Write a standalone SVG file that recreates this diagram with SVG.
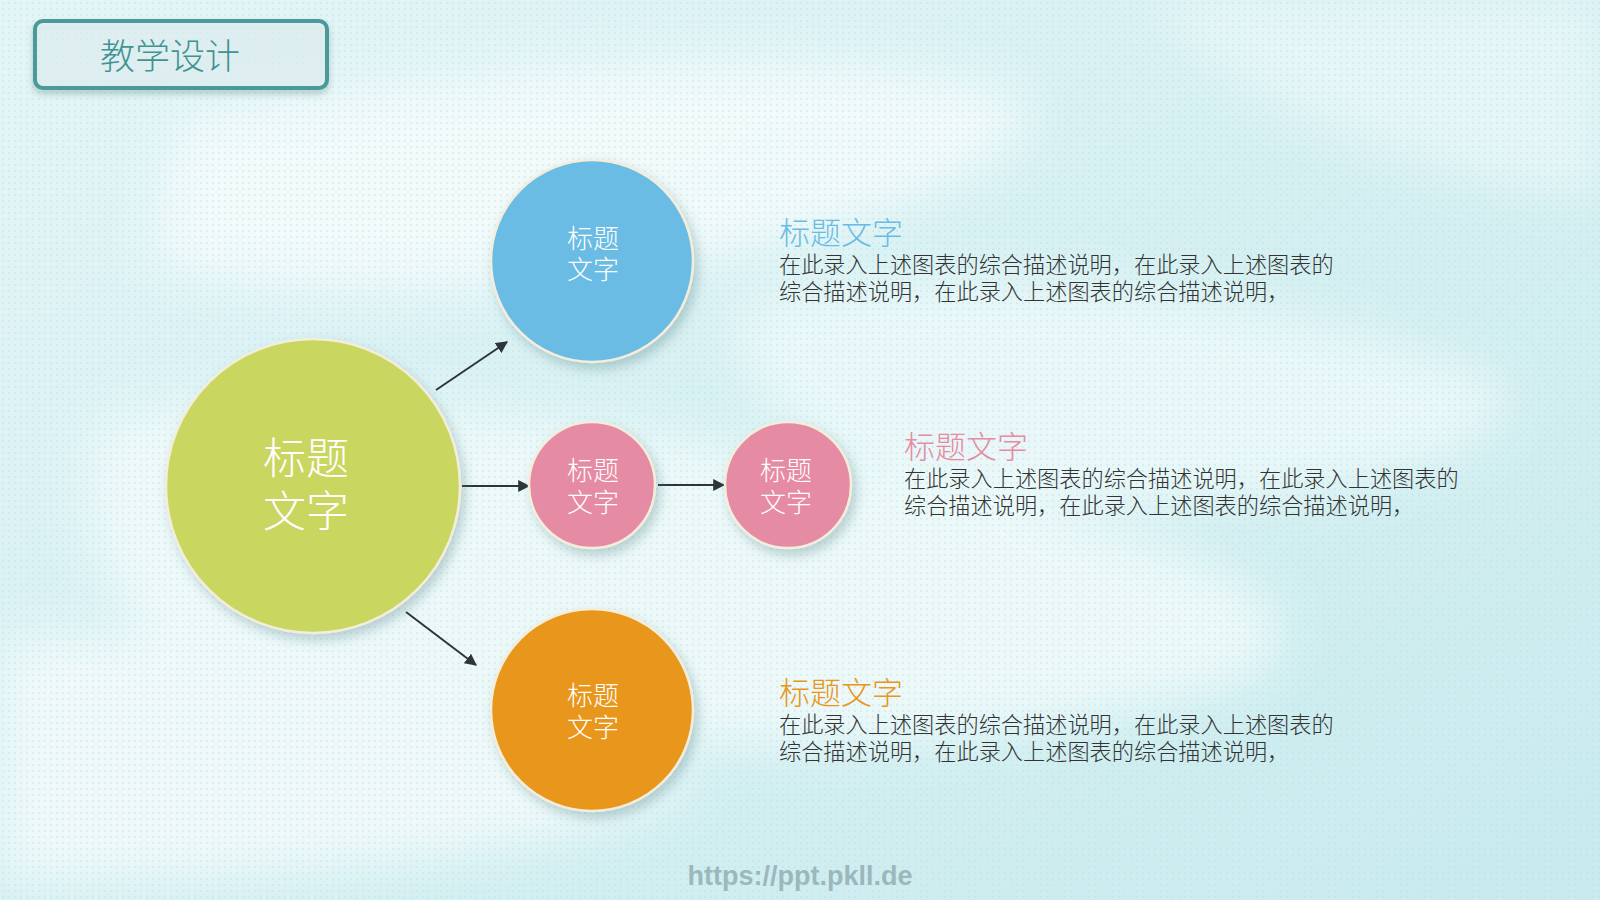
<svg xmlns="http://www.w3.org/2000/svg" width="1600" height="900" viewBox="0 0 1600 900">
  <defs>
    <linearGradient id="bg" x1="0" y1="0" x2="1" y2="1">
      <stop offset="0" stop-color="#e4f5f7"/>
      <stop offset="0.5" stop-color="#d6f0f2"/>
      <stop offset="1" stop-color="#c9ebee"/>
    </linearGradient>
    <pattern id="dots" width="6" height="6" patternUnits="userSpaceOnUse">
      <circle cx="3" cy="3" r="0.9" fill="#b8dde2" opacity="0.55"/>
    </pattern>
    <filter id="blur" x="-20%" y="-20%" width="140%" height="140%">
      <feGaussianBlur stdDeviation="25"/>
    </filter>
    <filter id="shadow" x="-30%" y="-30%" width="160%" height="160%">
      <feDropShadow dx="4" dy="6" stdDeviation="6" flood-color="#4d7f86" flood-opacity="0.35"/>
    </filter>
    <filter id="boxshadow" x="-10%" y="-30%" width="120%" height="160%">
      <feDropShadow dx="0" dy="4" stdDeviation="3" flood-color="#3c6f70" flood-opacity="0.35"/>
    </filter>
    <marker id="arrowL" viewBox="0 0 10 10" refX="9" refY="5" markerWidth="12" markerHeight="12" orient="auto" markerUnits="userSpaceOnUse">
      <path d="M0,0 L10,5 L0,10 z" fill="#2f3438"/>
    </marker>
  </defs>
  <style>
    .cj { font-family: "Noto Sans CJK SC", "Noto Sans", sans-serif; font-weight: 300; }
    .ctext { fill: #ffffff; text-anchor: middle; }
    .circ { stroke: #f3eedc; stroke-width: 2.5; filter: url(#shadow); }
    .body { fill: #333333; font-size: 22.2px; }
    .head { font-size: 31px; }
    .conn { stroke: #2f3438; stroke-width: 2; fill: none; marker-end: url(#arrowL); }
  </style>

  <!-- background -->
  <rect x="0" y="0" width="1600" height="900" fill="url(#bg)"/>
  <g filter="url(#blur)" opacity="0.85">
    <path d="M180,120 C500,60 800,40 1000,90 C1100,130 900,220 700,260 C500,300 250,300 150,260 Z" fill="#f6fcfc"/>
    <path d="M100,420 C300,380 600,420 900,480 C1200,540 1350,600 1250,680 C1000,760 600,760 300,720 C120,690 60,520 100,420 Z" fill="#f2fbfb"/>
    <path d="M750,300 C1000,260 1300,300 1500,380 C1550,460 1300,520 1000,500 C800,480 700,360 750,300 Z" fill="#eef9fa"/>
    <path d="M0,640 C200,620 500,700 700,780 C600,860 300,880 0,880 Z" fill="#f4fbfb"/>
    <path d="M1150,0 L1600,0 L1600,200 C1450,180 1250,120 1150,0 Z" fill="#e9f7f8"/>
  </g>
  <rect x="0" y="0" width="1600" height="900" fill="url(#dots)"/>

  <!-- title box -->
  <g id="title">
    <rect x="35" y="21" width="292" height="67" rx="8" ry="8" fill="#eaf7f8" fill-opacity="0.6" stroke="#4b9a99" stroke-width="4" filter="url(#boxshadow)"/>
    <text x="170" y="69" class="cj" font-size="35" fill="#3f9492" text-anchor="middle">教学设计</text>
  </g>

  <!-- connectors -->
  <g id="connectors">
    <line x1="436" y1="390" x2="507" y2="342" class="conn"/>
    <line x1="462" y1="486" x2="529" y2="486" class="conn"/>
    <line x1="658" y1="485" x2="724" y2="485" class="conn"/>
    <line x1="406" y1="612" x2="476" y2="665" class="conn"/>
  </g>

  <!-- nodes -->
  <g id="node-main">
    <circle cx="313" cy="486" r="147" fill="#c9d661" class="circ"/>
    <text class="cj ctext" font-size="43"><tspan x="306" y="474">标题</tspan><tspan x="306" y="527">文字</tspan></text>
  </g>
  <g id="node-blue">
    <circle cx="592" cy="261" r="101" fill="#6bbce4" class="circ"/>
    <text class="cj ctext" font-size="26"><tspan x="593" y="248">标题</tspan><tspan x="593" y="279">文字</tspan></text>
  </g>
  <g id="node-pink1">
    <circle cx="592" cy="485" r="63" fill="#e58ba3" class="circ"/>
    <text class="cj ctext" font-size="26"><tspan x="593" y="480">标题</tspan><tspan x="593" y="512">文字</tspan></text>
  </g>
  <g id="node-pink2">
    <circle cx="788" cy="485" r="63" fill="#e58ba3" class="circ"/>
    <text class="cj ctext" font-size="26"><tspan x="786" y="480">标题</tspan><tspan x="786" y="512">文字</tspan></text>
  </g>
  <g id="node-orange">
    <circle cx="592" cy="710" r="101" fill="#e9961a" class="circ"/>
    <text class="cj ctext" font-size="26"><tspan x="593" y="705">标题</tspan><tspan x="593" y="737">文字</tspan></text>
  </g>

  <!-- descriptions -->
  <g id="desc-blue">
    <text class="cj head" x="779" y="244" fill="#6bbce4">标题文字</text>
    <text class="cj body"><tspan x="779" y="273">在此录入上述图表的综合描述说明，在此录入上述图表的</tspan><tspan x="779" y="300">综合描述说明，在此录入上述图表的综合描述说明，</tspan></text>
  </g>
  <g id="desc-pink">
    <text class="cj head" x="904" y="458" fill="#e58ba3">标题文字</text>
    <text class="cj body"><tspan x="904" y="487">在此录入上述图表的综合描述说明，在此录入上述图表的</tspan><tspan x="904" y="514">综合描述说明，在此录入上述图表的综合描述说明，</tspan></text>
  </g>
  <g id="desc-orange">
    <text class="cj head" x="779" y="704" fill="#e9961a">标题文字</text>
    <text class="cj body"><tspan x="779" y="733">在此录入上述图表的综合描述说明，在此录入上述图表的</tspan><tspan x="779" y="760">综合描述说明，在此录入上述图表的综合描述说明，</tspan></text>
  </g>

  <!-- watermark -->
  <text x="800" y="885" font-family="Liberation Sans, Arial, sans-serif" font-weight="bold" font-size="27" fill="#8aa6ab" fill-opacity="0.75" text-anchor="middle">https://ppt.pkll.de</text>
</svg>
